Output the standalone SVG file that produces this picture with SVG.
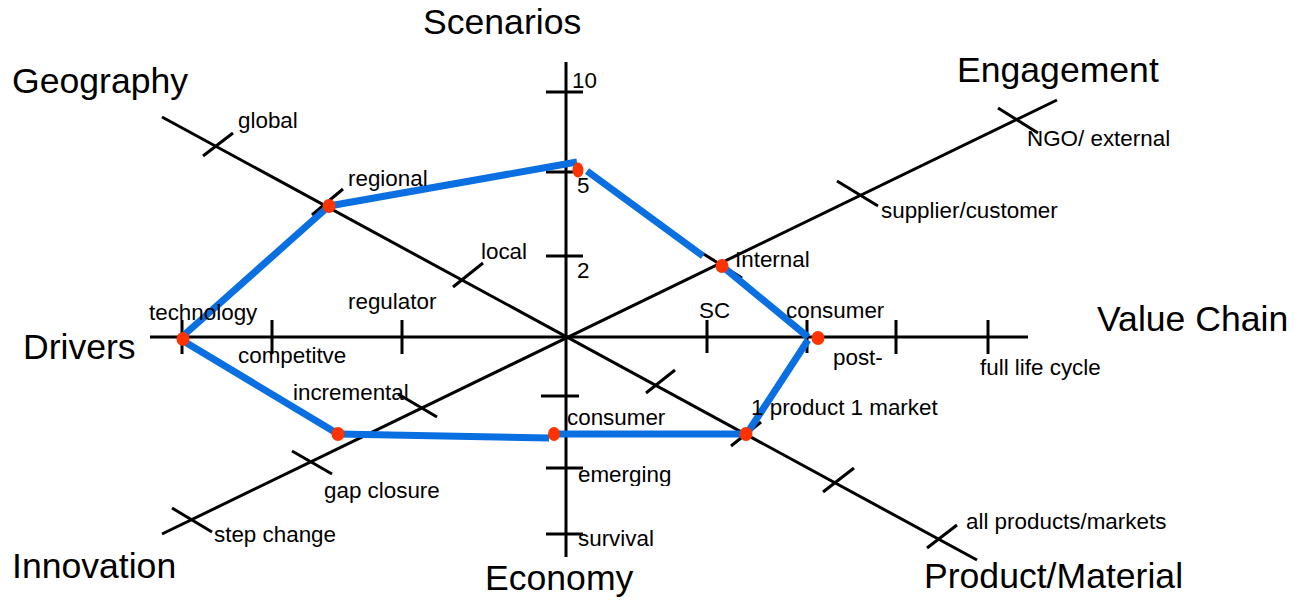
<svg xmlns="http://www.w3.org/2000/svg" width="1306" height="601" viewBox="0 0 1306 601">
<style>
.ax{stroke:#000;stroke-width:3;fill:none;stroke-linecap:butt}
.bl{stroke:#0A6FE0;stroke-width:7;fill:none;stroke-linecap:butt}
.dot{fill:#FF3300}
.big{font-family:"Liberation Sans",Arial,sans-serif;font-size:35.6px;fill:#000}
.sm{font-family:"Liberation Sans",Arial,sans-serif;font-size:22.4px;fill:#000}
</style>
<defs>
<clipPath id="clipEm"><rect x="570" y="455" width="120" height="31"/></clipPath>
</defs>
<rect width="1306" height="601" fill="#fff"/>
<g id="axes">
<line class="ax" x1="566" y1="62" x2="566" y2="557"/>
<line class="ax" x1="150" y1="337" x2="1028" y2="337"/>
<line class="ax" x1="162" y1="117" x2="977" y2="560"/>
<line class="ax" x1="1057" y1="100" x2="162" y2="534"/>
</g>
<g id="ticks">
<line class="ax" x1="546" y1="92" x2="583" y2="92"/>
<line class="ax" x1="546" y1="172" x2="583" y2="172"/>
<line class="ax" x1="546" y1="256" x2="583" y2="256"/>
<line class="ax" x1="541" y1="396" x2="579" y2="396"/>
<line class="ax" x1="546" y1="468" x2="583" y2="468"/>
<line class="ax" x1="546" y1="534" x2="583" y2="534"/>
<line class="ax" x1="182" y1="320" x2="182" y2="354"/>
<line class="ax" x1="272" y1="320" x2="272" y2="354"/>
<line class="ax" x1="402" y1="320" x2="402" y2="354"/>
<line class="ax" x1="707" y1="320" x2="707" y2="353"/>
<line class="ax" x1="807" y1="320" x2="807" y2="353"/>
<line class="ax" x1="896" y1="320" x2="896" y2="354"/>
<line class="ax" x1="988" y1="320" x2="988" y2="354"/>
<line class="ax" x1="203" y1="156" x2="233" y2="133"/>
<line class="ax" x1="312" y1="215" x2="343" y2="189"/>
<line class="ax" x1="453" y1="287" x2="483" y2="263"/>
<line class="ax" x1="646" y1="393" x2="675" y2="370"/>
<line class="ax" x1="731" y1="446" x2="761" y2="422"/>
<line class="ax" x1="823" y1="492" x2="854" y2="468"/>
<line class="ax" x1="927" y1="548" x2="957" y2="525"/>
<line class="ax" x1="998" y1="108" x2="1038" y2="133"/>
<line class="ax" x1="837" y1="181" x2="878" y2="206"/>
<line class="ax" x1="702" y1="253" x2="742" y2="278"/>
<line class="ax" x1="398" y1="394" x2="437" y2="417"/>
<line class="ax" x1="292" y1="451" x2="332" y2="474"/>
<line class="ax" x1="172" y1="508" x2="212" y2="532"/>
</g>
<g id="connectors">
<line class="bl" x1="329" y1="206" x2="577" y2="162"/>
<line class="bl" x1="587" y1="171" x2="703" y2="256"/>
<line class="bl" x1="722" y1="266" x2="808" y2="337"/>
<line class="bl" x1="808" y1="340" x2="748" y2="432"/>
<line class="bl" x1="746" y1="434" x2="556" y2="434"/>
<line class="bl" x1="549" y1="438" x2="338" y2="434"/>
<line class="bl" x1="338" y1="434" x2="185" y2="342"/>
<line class="bl" x1="184" y1="335" x2="329" y2="206"/>
</g>
<g id="points">
<ellipse class="dot" cx="329" cy="206" rx="6.5" ry="7"/>
<ellipse class="dot" cx="578" cy="170" rx="5.5" ry="7.5"/>
<ellipse class="dot" cx="722" cy="266" rx="6.5" ry="7"/>
<ellipse class="dot" cx="818" cy="338" rx="6.5" ry="7"/>
<ellipse class="dot" cx="746" cy="434" rx="6.5" ry="7"/>
<ellipse class="dot" cx="554" cy="434" rx="6" ry="7"/>
<ellipse class="dot" cx="338" cy="434" rx="6.5" ry="7"/>
<ellipse class="dot" cx="183" cy="339" rx="6.5" ry="7"/>
</g>
<g id="axis-titles">
<text class="big" x="423" y="34">Scenarios</text>
<text class="big" x="12" y="93">Geography</text>
<text class="big" x="957" y="82">Engagement</text>
<text class="big" x="1097" y="331">Value Chain</text>
<text class="big" x="23" y="359">Drivers</text>
<text class="big" x="12" y="578">Innovation</text>
<text class="big" x="485" y="590">Economy</text>
<text class="big" x="924" y="588">Product/Material</text>
</g>
<g id="labels">
<text class="sm" x="572" y="88">10</text>
<text class="sm" x="577" y="193">5</text>
<text class="sm" x="577" y="278">2</text>
<text class="sm" x="238" y="128">global</text>
<text class="sm" x="348" y="186">regional</text>
<text class="sm" x="481" y="259">local</text>
<text class="sm" x="735" y="267">Internal</text>
<text class="sm" x="699" y="318">SC</text>
<text class="sm" x="786" y="318">consumer</text>
<text class="sm" x="833" y="365">post-</text>
<text class="sm" x="980" y="375">full life cycle</text>
<text class="sm" x="751" y="415">1 product 1 market</text>
<text class="sm" x="881" y="218">supplier/customer</text>
<text class="sm" x="1027" y="146">NGO/ external</text>
<text class="sm" x="149" y="320">technology</text>
<text class="sm" x="348" y="309">regulator</text>
<text class="sm" x="238" y="363">competitve</text>
<text class="sm" x="293" y="400">incremental</text>
<text class="sm" x="567" y="425">consumer</text>
<text class="sm" x="578" y="482" clip-path="url(#clipEm)">emerging</text>
<text class="sm" x="578" y="546">survival</text>
<text class="sm" x="324" y="498">gap closure</text>
<text class="sm" x="214" y="542">step change</text>
<text class="sm" x="966" y="529">all products/markets</text>
</g>
</svg>
